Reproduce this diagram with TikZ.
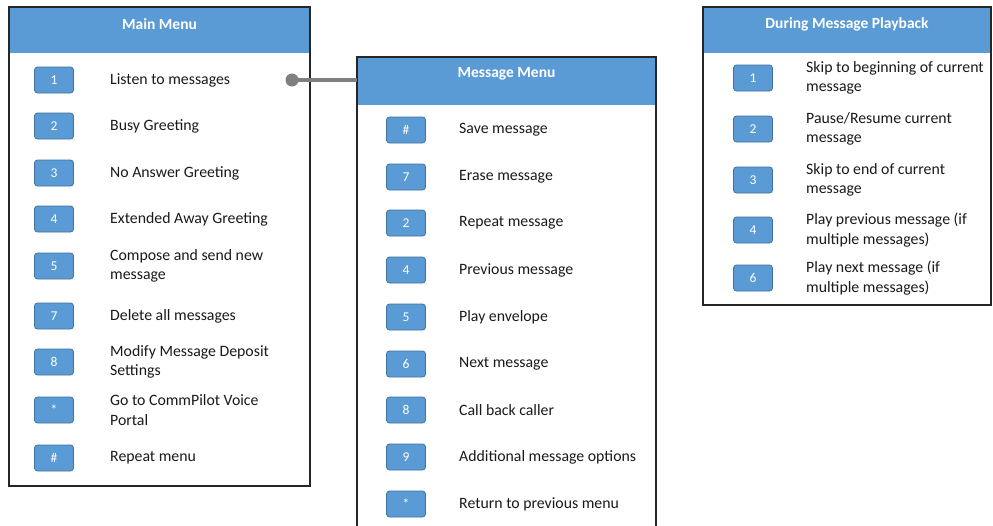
\documentclass[tikz,border=0pt]{standalone}
\usepackage{fontspec}
\setmainfont{Carlito}
\definecolor{hdblue}{HTML}{5B9BD5}
\definecolor{keyline}{HTML}{41719C}
\definecolor{frame}{HTML}{262626}
\definecolor{linkgray}{HTML}{7F7F7F}
\definecolor{ink}{HTML}{1A1A1A}
\begin{document}
\begin{tikzpicture}[x=1pt,y=-1pt,
  panel/.style={draw=frame, line width=1.4pt, fill=white, anchor=north west,
    outer sep=0pt, inner sep=0pt},
  header/.style={path picture={\fill[hdblue] (path picture bounding box.north west)
    rectangle ([yshift=-#1]path picture bounding box.north east);}},
  title/.style={text=white, font=\fontsize{15.5}{18}\selectfont\bfseries, inner sep=0pt},
  key/.style={draw=keyline, line width=0.8pt, fill=hdblue, rounded corners=3pt,
    minimum width=39pt, minimum height=26pt, inner sep=0pt, text=white,
    font=\fontsize{13.5}{15}\selectfont},
  item/.style={anchor=west, align=left, inner sep=0pt, text=ink,
    font=\fontsize{15.8}{19.5}\selectfont},
  link/.style={draw=linkgray, line width=3.5pt},
  dot/.style={circle, fill=linkgray, minimum size=13pt, inner sep=0pt}
]
\useasboundingbox (0,0) rectangle (993,525);
\clip (0,0) rectangle (993,525);

% menu frames with their blue title bars
\node[panel, header=46pt, minimum width=301pt, minimum height=479pt] (mainp) at (9,7) {};
\node[panel, header=48pt, minimum width=299pt, minimum height=500pt] (msgp) at (357,57) {};
\node[panel, header=46pt, minimum width=288pt, minimum height=298pt] (playp) at (703,7) {};

\node[title] (mainT) at ([yshift=-17pt]mainp.north) {Main Menu};
\node[title] (msgT) at ([yshift=-17pt]msgp.north) {Message Menu};
\node[title] (playT) at ([yshift=-17pt]playp.north) {During Message Playback};

% main menu entries
\foreach \y/\k/\t [count=\i] in {
  80/1/{Listen to messages},
  126/2/{Busy Greeting},
  173/3/{No Answer Greeting},
  219/4/{Extended Away Greeting},
  266/5/{Compose and send new\\message},
  316/7/{Delete all messages},
  362/8/{Modify Message Deposit\\Settings},
  410/*/{Go to CommPilot Voice\\Portal},
  458/\#/{Repeat menu}} {
  \node[key] (mk\i) at (54,\y) {\k};
  \node[item] (mt\i) at (110,\y) {\t};
}

% message menu entries
\foreach \y/\k/\t [count=\i] in {
  130/\#/{Save message},
  177/7/{Erase message},
  223/2/{Repeat message},
  270/4/{Previous message},
  317/5/{Play envelope},
  364/6/{Next message},
  410/8/{Call back caller},
  457/9/{Additional message options},
  504/*/{Return to previous menu}} {
  \node[key] (sk\i) at (406,\y) {\k};
  \node[item] (st\i) at (459,\y) {\t};
}

% playback controls
\foreach \y/\k/\t [count=\i] in {
  78/1/{Skip to beginning of current\\message},
  129/2/{Pause/Resume current\\message},
  180/3/{Skip to end of current\\message},
  230/4/{Play previous message (if\\multiple messages)},
  278/6/{Play next message (if\\multiple messages)}} {
  \node[key] (pk\i) at (753,\y) {\k};
  \node[item] (pt\i) at (806,\y) {\t};
}

% "Listen to messages" leads into the message menu
\node[dot] (lnkdot) at (292,80) {};
\draw[link] (lnkdot.center) -- (lnkdot.center -| msgp.west);
\end{tikzpicture}
\end{document}
